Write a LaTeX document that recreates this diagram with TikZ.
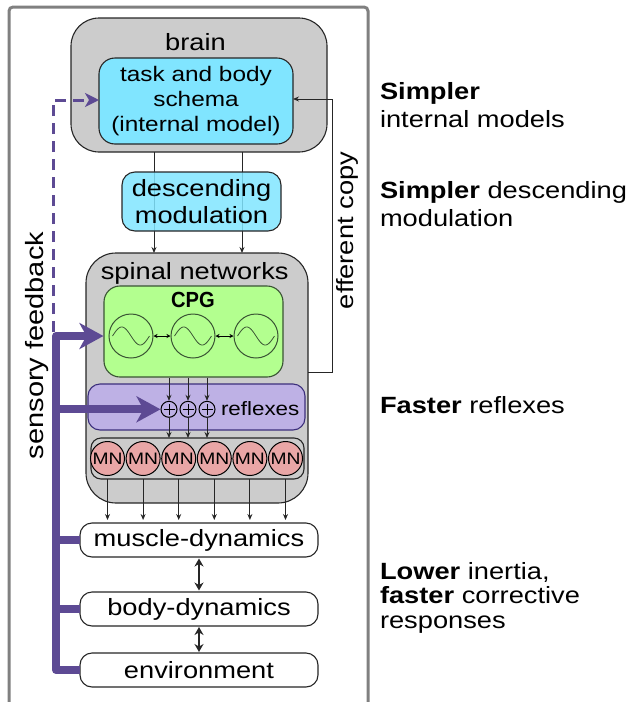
\documentclass[tikz,border=0pt]{standalone}
\usepackage{fontspec}
\setmainfont{Liberation Sans}[FakeStretch=1.16]
\newfontfamily\cpgfont{Liberation Sans}[FakeStretch=0.92]
\usetikzlibrary{arrows.meta}
\definecolor{gfill}{RGB}{204,204,204}
\definecolor{cyanfill}{RGB}{128,229,255}
\definecolor{greenfill}{RGB}{179,255,143}
\definecolor{greenline}{RGB}{58,84,52}
\definecolor{lavfill}{RGB}{190,177,229}
\definecolor{lavline}{RGB}{60,47,124}
\definecolor{pinkfill}{RGB}{233,166,166}
\definecolor{pcol}{RGB}{93,74,148}
\definecolor{framecol}{RGB}{128,128,128}
\begin{document}
\begin{tikzpicture}[x=1pt,y=-1pt,
  box/.style={draw=black!85, line width=1.1pt, inner sep=0pt, outer sep=0pt},
  fbig/.style={font=\fontsize{23.5pt}{27pt}\selectfont},
  sarrow/.style={draw=black!85, line width=0.9pt, -{Stealth[length=6pt,width=5pt]}},
  darrow/.style={draw=black!85, line width=1.8pt, {Stealth[length=8pt,width=9pt]}-{Stealth[length=8pt,width=9pt]}},
  oarrow/.style={draw=black, line width=0.8pt, {Stealth[length=4pt,width=4pt]}-{Stealth[length=4pt,width=4pt]}},
  pline/.style={draw=pcol, line width=8pt, line join=round},
  parrow/.style={pline, -{Stealth[length=24pt,width=26pt,inset=7pt]}},
  lbl/.style={inner sep=0pt, outer sep=0pt},
]
\useasboundingbox (0,0) rectangle (630,702);

% outer frame
\draw[framecol, line width=3pt, rounded corners=4pt] (9,702) -- (9,7) -- (368,7) -- (368,702);

% brain
\node[box, fill=gfill, rounded corners=28pt, minimum width=256pt, minimum height=134pt] (brain) at (199,85) {};
\node[lbl, fbig, anchor=base] (brainlbl) at (195.5,50) {brain};
\node[box, fill=cyanfill, rounded corners=16pt, minimum width=194pt, minimum height=86pt,
      align=center, font=\fontsize{21pt}{25pt}\selectfont] (task) at (196,101)
      {task and body\\schema\\(internal model)};

% spinal networks
\node[box, fill=gfill, rounded corners=30pt, minimum width=222pt, minimum height=250pt] (spinal) at (197,378) {};
\node[lbl, fbig, anchor=base] (spinallbl) at (194.7,279.3) {spinal networks};

% brain -> spinal arrows (behind descending box)
\draw[sarrow] ([xshift=-45pt]brain.south) -- ([xshift=-45pt]brain.south |- spinal.north);
\draw[sarrow] ([xshift=43pt]brain.south) -- ([xshift=43pt]brain.south |- spinal.north);
\node[box, fill=cyanfill, fill opacity=0.85, text opacity=1, rounded corners=13pt,
      minimum width=159pt, minimum height=59pt, align=center, fbig] (desc) at (201.5,201.5)
      {descending\\modulation};

% CPG
\node[draw=greenline, line width=1.1pt, fill=greenfill, rounded corners=16pt, inner sep=0pt,
      minimum width=179pt, minimum height=91pt] (cpg) at (193.5,331.5) {};
\node[lbl, anchor=base, font=\cpgfont\bfseries\fontsize{21.9pt}{24pt}\selectfont] (cpglbl) at (193,307) {CPG};
\foreach \n/\x in {o1/131,o2/193,o3/256}{
  \node[circle, draw=greenline, line width=1pt, fill=greenfill, minimum size=44pt, inner sep=0pt] (\n) at (\x,336) {};
  \draw[greenline, line width=0.8pt, shift={(\n.center)}, domain=0:360, samples=41, smooth, variable=\t]
    plot ({-18.5+\t*37/360},{-9*sin(\t)});
}
\draw[oarrow] (o1.east) -- (o2.west);
\draw[oarrow] (o2.east) -- (o3.west);

% reflexes
\node[draw=lavline, line width=1.1pt, fill=lavfill, rounded corners=12pt, inner sep=0pt,
      minimum width=217pt, minimum height=46pt] (reflex) at (196.5,407) {};
\node[lbl, anchor=base west, font=\fontsize{19.3pt}{22pt}\selectfont] (reflexlbl) at (221,415.7) {reflexes};
\foreach \n/\x in {p1/169,p2/188,p3/207}{
  \node[circle, draw=black, line width=1pt, fill=lavfill, minimum size=16pt, inner sep=0pt] (\n) at (\x,409.3) {};
  \draw[black, line width=1pt] ([xshift=-5.5pt]\n.center) -- ([xshift=5.5pt]\n.center);
  \draw[black, line width=1pt] ([yshift=-5.5pt]\n.center) -- ([yshift=5.5pt]\n.center);
}

% MN row
\node[box, fill=gfill, rounded corners=10pt, minimum width=213pt, minimum height=41pt] (mnbox) at (197.5,458.5) {};
\foreach \i in {1,...,6}{
  \node[circle, draw=black, line width=1pt, fill=pinkfill, minimum size=34pt, inner sep=0pt,
        font=\fontsize{16.6pt}{18pt}\selectfont] (mn\i) at ({107.5+35.6*(\i-1)},458.5) {MN};
}
\foreach \n in {p1,p2,p3}{
  \draw[sarrow] (\n |- cpg.south) -- (\n.north);
  \draw[sarrow] (\n.south) -- (\n |- mnbox.north);
}

% body boxes
\node[box, fill=white, rounded corners=12pt, minimum width=238pt, minimum height=34pt, fbig] (muscle) at (199,540) {muscle-dynamics};
\node[box, fill=white, rounded corners=12pt, minimum width=238pt, minimum height=34pt, fbig] (body) at (199,609) {body-dynamics};
\node[box, fill=white, rounded corners=12pt, minimum width=238pt, minimum height=34pt, fbig] (env) at (199,670) {environment};
\foreach \i in {1,...,6}{
  \draw[sarrow, shorten >=3pt] (mn\i |- mnbox.south) -- (mn\i |- muscle.north);
}
\draw[darrow, shorten <=1.5pt, shorten >=1.5pt] (muscle.south) -- (body.north);
\draw[darrow, shorten <=1pt, shorten >=1pt] (body.south) -- (env.north);

% efferent copy
\coordinate (ef) at (332,99);
\draw[sarrow] ([yshift=6pt]spinal.east) -| (ef) -- (task.east |- ef);
\node[lbl, rotate=90, anchor=base, fbig] (eflbl) at (353,230.5) {efferent copy};

% sensory feedback
\coordinate (sfd) at (53,332);
\draw[pcol, line width=3pt, dash pattern=on 11pt off 7pt, -{Stealth[length=14pt,width=14pt,inset=4pt]}]
  (sfd) |- (task.west |- 0,100);
\coordinate (fbtop) at (56,336);
\coordinate (fbbot) at (56,670);
\draw[parrow] (env.west) -- (fbbot) -- (fbtop) -- (cpg.west |- o1);
\draw[parrow] (fbtop |- p1) -- (p1.west);
\draw[pline] (fbtop |- muscle.west) -- (muscle.west);
\draw[pline] (fbtop |- body.west) -- (body.west);
\node[lbl, rotate=90, anchor=base, font=\fontsize{25pt}{28pt}\selectfont] (sflbl) at (43,345.5) {sensory feedback};

% right-hand notes
\node[lbl, fbig, anchor=base west] (n1a) at (380,99) {\bfseries Simpler};
\node[lbl, fbig, anchor=base west] (n1b) at (380,127) {internal models};
\node[lbl, fbig, anchor=base west] (n2a) at (380,198) {\textbf{Simpler} descending};
\node[lbl, fbig, anchor=base west] (n2b) at (380,226) {modulation};
\node[lbl, fbig, anchor=base west] (n3a) at (380,413) {\textbf{Faster} reflexes};
\node[lbl, fbig, anchor=base west] (n4a) at (380,579) {\textbf{Lower} inertia,};
\node[lbl, fbig, anchor=base west] (n4b) at (380,603) {\textbf{faster} corrective};
\node[lbl, fbig, anchor=base west] (n4c) at (380,628) {responses};
\end{tikzpicture}
\end{document}
